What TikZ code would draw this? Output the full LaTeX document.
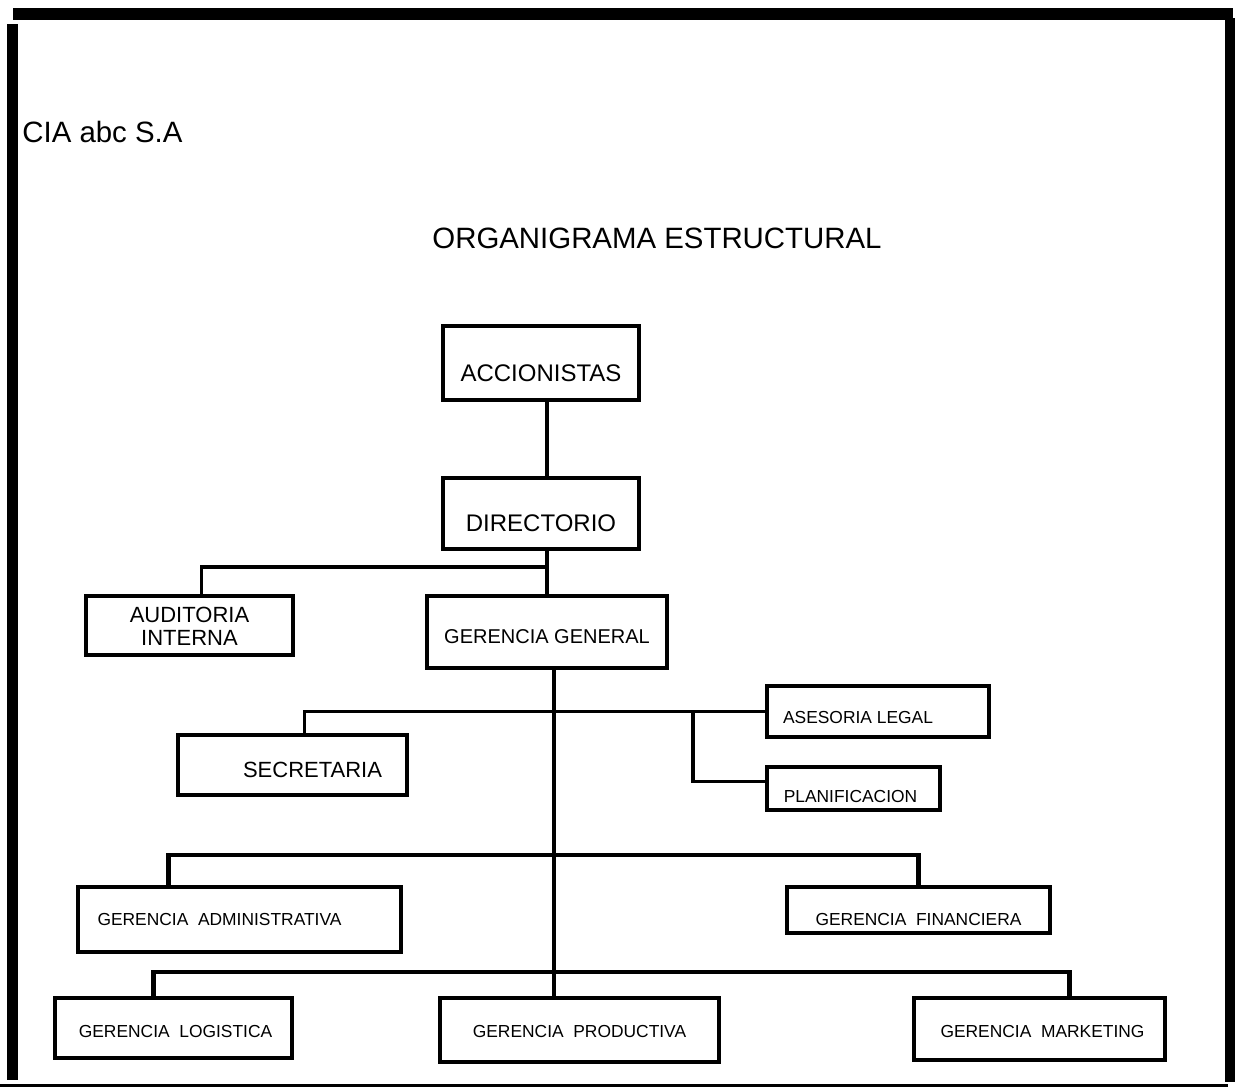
\documentclass[tikz,border=0pt]{standalone}
\usepackage{fontspec}
\setmainfont{Liberation Sans}
\usepackage{tikz}
\tikzset{
  box/.style={draw, line width=1.6pt, inner sep=0pt},
  conn/.style={line width=1.6pt},
  bus/.style={line width=2.2pt},
  frame/.style={line width=#1},
  bigtext/.style={font=\fontsize{14.7}{17}\selectfont},
  midtext/.style={font=\fontsize{12}{14}\selectfont},
  gentext/.style={font=\fontsize{10}{12}\selectfont},
  unittext/.style={font=\fontsize{11}{11.2}\selectfont, align=center},
  smalltext/.style={font=\fontsize{8.7}{10}\selectfont},
}

\begin{document}
\begin{tikzpicture}[x=0.5pt,y=-0.5pt]
    \useasboundingbox (0,0) rectangle (1241,1088);
    % outer frame
    \draw[frame=6pt] (13,14) -- (1233,14);
    \draw[frame=5.5pt] (12.5,24) -- (12.5,1080);
    \draw[frame=5pt] (1230,18) -- (1230,1082);
    \draw[frame=1.5pt] (0,1085) -- (1228,1085);

    % titles
    \node[bigtext, anchor=base west, inner sep=0pt] (cia) at (22,142) {CIA abc S.A};
    \node[bigtext, anchor=base, inner sep=0pt] (title) at (657,248) {ORGANIGRAMA ESTRUCTURAL};

    % units
    \node[box, minimum width=98pt, minimum height=37pt,
          label={[midtext, yshift=-5pt]center:ACCIONISTAS}] (acc) at (541,363) {};
    \node[box, minimum width=98pt, minimum height=35.5pt,
          label={[midtext, yshift=-5pt]center:DIRECTORIO}] (dir) at (541,513.5) {};
    \node[box, minimum width=120pt, minimum height=36pt,
          label={[gentext, yshift=-2.5pt]center:GERENCIA GENERAL}] (gg) at (547,632) {};
    \node[box, minimum width=103.5pt, minimum height=29.5pt,
          label={[unittext, yshift=-0.5pt]center:AUDITORIA\\INTERNA}] (aud) at (189.5,625.5) {};
    \node[box, minimum width=114.5pt, minimum height=30pt,
          label={[unittext, xshift=10pt, yshift=-2.5pt]center:SECRETARIA}] (sec) at (292.5,765) {};
    \node[box, minimum width=111pt, minimum height=25.5pt,
          label={[smalltext, xshift=-10pt, yshift=-3pt]center:ASESORIA LEGAL}] (ase) at (878,711.5) {};
    \node[box, minimum width=86.5pt, minimum height=21.5pt,
          label={[smalltext, xshift=-1.5pt, yshift=-4pt]center:PLANIFICACION}] (plan) at (853.5,788.5) {};
    \node[box, minimum width=161.5pt, minimum height=32.5pt,
          label={[smalltext, xshift=-10pt]center:GERENCIA\ \ ADMINISTRATIVA}] (adm) at (239.5,919.5) {};
    \node[box, minimum width=131.5pt, minimum height=23pt,
          label={[smalltext, yshift=-4.5pt]center:GERENCIA\ \ FINANCIERA}] (fin) at (918.5,910) {};
    \node[box, minimum width=118.5pt, minimum height=30pt,
          label={[smalltext, xshift=1pt, yshift=-1.5pt]center:GERENCIA\ \ LOGISTICA}] (log) at (173.5,1028) {};
    \node[box, minimum width=139.5pt, minimum height=32pt,
          label={[smalltext, yshift=-0.5pt]center:GERENCIA\ \ PRODUCTIVA}] (prod) at (579.5,1030) {};
    \node[box, minimum width=125.5pt, minimum height=31pt,
          label={[smalltext, xshift=1.5pt, yshift=-1pt]center:GERENCIA\ \ MARKETING}] (mkt) at (1039.5,1029) {};

    % junctions
    \coordinate (j1) at (547,567);
    \coordinate (j2) at (693,711);
    \coordinate (j3) at (554,855);
    \coordinate (j4) at (554,972);

    % connectors
    \draw[conn] (acc.south -| gg.north) -- (dir.north -| gg.north);
    \draw[conn] (dir.south -| gg.north) -- (gg.north);
    \draw[conn] ([xshift=6pt]aud.north) |- (j1);
    \draw[conn] ([xshift=3.5pt]gg.south) -- ([xshift=3.5pt]gg.south |- prod.north);
    \draw[conn] ([xshift=6pt]sec.north) |- (ase.west);
    \draw[conn] (j2) |- ([yshift=3.5pt]plan.west);
    \draw[bus] ([xshift=-35.5pt]adm.north) |- (j3) -| (fin.north);
    \draw[bus] ([xshift=-10pt]log.north) |- (j4) -| ([xshift=15pt]mkt.north);
\end{tikzpicture}
\end{document}
